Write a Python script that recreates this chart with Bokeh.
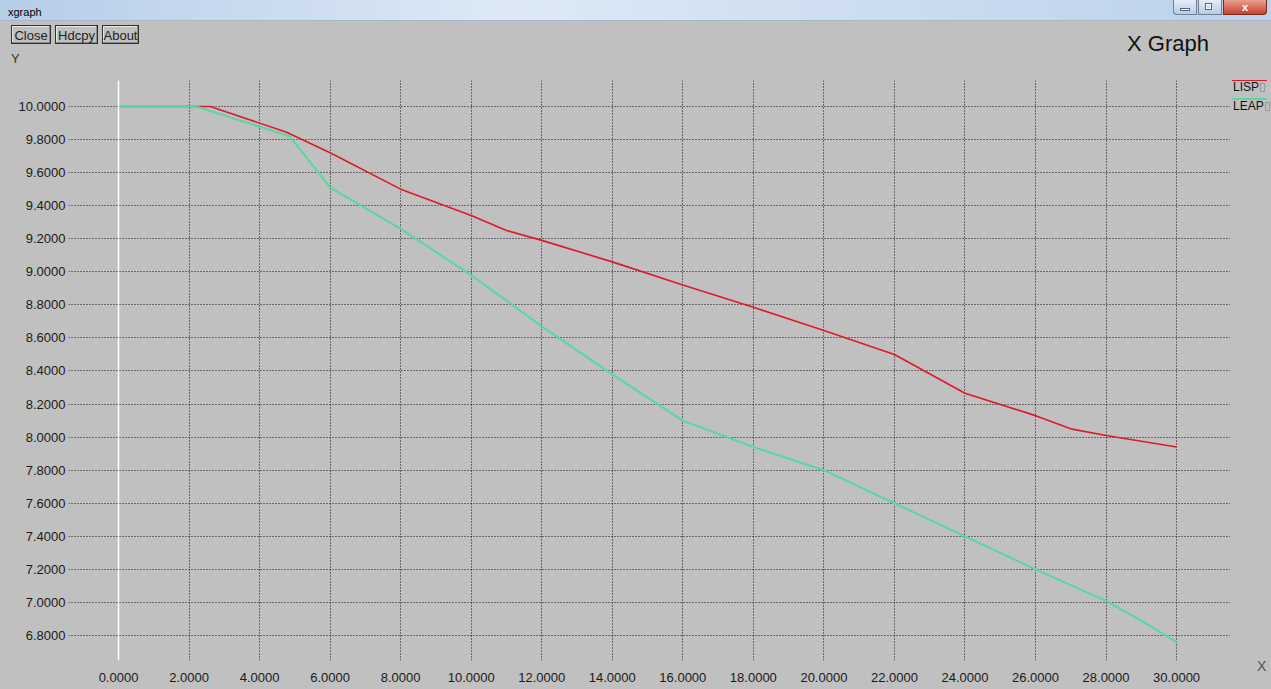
from bokeh.plotting import figure
from bokeh.models import FixedTicker, NumeralTickFormatter, Span, Div
from bokeh.layouts import column, row
from bokeh.embed import file_html
from bokeh.resources import INLINE

# ---- data ----
lisp_x = [0, 2.0, 2.6, 4.75, 6, 8, 10, 11, 12, 14, 16, 18, 20, 22, 24, 26, 27, 28, 30]
lisp_y = [10.0, 10.0, 10.0, 9.845, 9.72, 9.50, 9.34, 9.25, 9.19, 9.06, 8.92, 8.785,
          8.645, 8.50, 8.265, 8.13, 8.05, 8.01, 7.94]
leap_x = [0, 2.2, 4.85, 6, 8, 10, 12, 14, 16, 18, 20, 22, 24, 26, 28, 29, 30]
leap_y = [10.0, 10.0, 9.82, 9.51, 9.26, 8.98, 8.67, 8.38, 8.10, 7.94, 7.80, 7.60,
          7.40, 7.20, 7.01, 6.89, 6.76]
x_ticks = [0, 2, 4, 6, 8, 10, 12, 14, 16, 18, 20, 22, 24, 26, 28, 30]
y_ticks = [6.8, 7.0, 7.2, 7.4, 7.6, 7.8, 8.0, 8.2, 8.4, 8.6, 8.8, 9.0, 9.2, 9.4, 9.6, 9.8, 10.0]
series_names = ["LISP", "LEAP"]

BG = "#c0c0c0"
FONT = "Liberation Sans"
RED = "#dc1a2c"
GREEN = "#58d8a0"

p = figure(width=1230, height=623, output_backend="svg", toolbar_location=None,
           x_range=(-1.418, 31.528), y_range=(6.649, 10.157),
           background_fill_color=BG, border_fill_color=BG,
           min_border_left=68, min_border_right=0, min_border_top=14, min_border_bottom=29,
           styles={"background-color": BG})
p.outline_line_color = None

for ax, ticks in ((p.xaxis[0], x_ticks), (p.yaxis[0], y_ticks)):
    ax.ticker = FixedTicker(ticks=ticks)
    ax.formatter = NumeralTickFormatter(format="0.0000")
    ax.axis_line_color = None
    ax.major_tick_line_color = None
    ax.minor_tick_line_color = None
    ax.major_tick_out = 0
    ax.major_tick_in = 0
    ax.major_label_text_font = FONT
    ax.major_label_text_font_size = "13px"
    ax.major_label_text_color = "#1a1a1a"
p.xaxis.major_label_standoff = 12
p.yaxis.major_label_standoff = 3

p.xgrid.ticker = FixedTicker(ticks=x_ticks[1:])
p.ygrid.ticker = FixedTicker(ticks=y_ticks)
for g in (p.xgrid[0], p.ygrid[0]):
    g.grid_line_color = "#000000"
    g.grid_line_dash = "1 2"
    g.grid_line_width = 1
    g.grid_line_alpha = 0.9

p.add_layout(Span(location=0, dimension="height", line_color="white", line_width=1.5))

p.line(lisp_x, lisp_y, line_color=RED, line_width=1.6)
p.line(leap_x, leap_y, line_color=GREEN, line_width=2)

btn = ("position:absolute;top:25px;height:19px;border:1px solid #303030;"
       "box-shadow:inset -1px -1px #8a8a8a, inset 1px 1px #e8e8e8;"
       "font-size:13px;line-height:19px;text-align:center;color:#222;white-space:nowrap;")
top_html = f"""<div style="position:relative;display:block;width:1271px;height:66px;background:{BG};font-family:'{FONT}',Arial,sans-serif;overflow:hidden;">
<div style="position:absolute;left:0;top:0;width:1271px;height:21px;background:linear-gradient(to right,#b6cde8,#dde9f6 40%,#c9dbef 75%,#bcd1ea);border-bottom:1px solid #a9b8c9;"></div>
<div style="position:absolute;left:8px;top:5px;font-size:11px;line-height:14px;color:#000;">xgraph</div>
<div style="position:absolute;left:1173px;top:0;width:24px;height:15px;background:linear-gradient(#e4edf7,#b9cce3);border:1px solid #6d7f95;border-top:none;border-radius:0 0 0 4px;"></div>
<div style="position:absolute;left:1180px;top:8px;width:10px;height:3px;background:#f4f7fb;border:1px solid #56657a;"></div>
<div style="position:absolute;left:1198px;top:0;width:24px;height:15px;background:linear-gradient(#e4edf7,#b9cce3);border:1px solid #6d7f95;border-top:none;"></div>
<div style="position:absolute;left:1205px;top:3px;width:7px;height:7px;border:1px solid #56657a;box-shadow:inset 0 0 0 1px #f4f7fb;"></div>
<div style="position:absolute;left:1223px;top:0;width:44px;height:15px;background:linear-gradient(#e9a08f,#c7412c);border:1px solid #7a2a20;border-top:none;border-radius:0 0 4px 0;color:#fff;font-size:11px;line-height:14px;text-align:center;font-weight:bold;">x</div>
<div style="{btn}left:11px;width:40px;">Close</div>
<div style="{btn}left:55px;width:43px;">Hdcpy</div>
<div style="{btn}left:102px;width:37px;">About</div>
<div style="position:absolute;left:1127px;top:31px;font-size:22px;line-height:26px;color:#111;">X Graph</div>
<div style="position:absolute;left:11px;top:51px;font-size:13px;line-height:15px;color:#333;">Y</div>
</div>"""
top = Div(text=top_html, width=1271, height=66, margin=0, styles={"background-color": BG})

box = "display:inline-block;width:5px;height:9px;border:1px solid #999;margin-left:1px;vertical-align:-1px;"
right_html = f"""<div style="position:relative;display:block;width:41px;height:623px;background:{BG};font-family:'{FONT}',Arial,sans-serif;overflow:hidden;">
<div style="position:absolute;left:2px;top:14px;width:35px;height:1px;background:{RED};"></div>
<div style="position:absolute;left:3px;top:14px;font-size:12px;line-height:14px;color:#111;white-space:nowrap;">{series_names[0]}<span style="{box}"></span></div>
<div style="position:absolute;left:2px;top:32px;width:35px;height:2px;background:{GREEN};"></div>
<div style="position:absolute;left:3px;top:33px;font-size:12px;line-height:14px;color:#111;white-space:nowrap;">{series_names[1]}<span style="{box}"></span></div>
<div style="position:absolute;left:27px;top:592px;font-size:14px;line-height:16px;color:#555;">X</div>
</div>"""
right = Div(text=right_html, width=41, height=623, margin=0, styles={"background-color": BG})

layout = column(top, row(p, right, spacing=0, styles={"background-color": BG}),
                spacing=0, styles={"background-color": BG})
open("out.html", "w").write(file_html(layout, INLINE))
